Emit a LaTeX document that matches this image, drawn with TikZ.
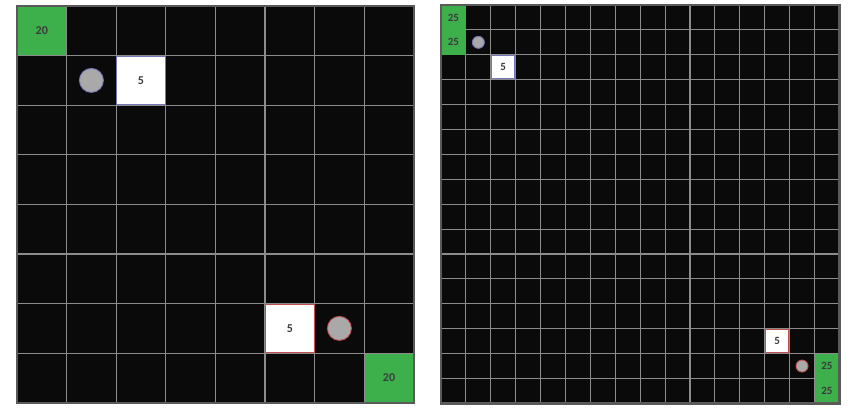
\documentclass[tikz,border=0pt]{standalone}
\usepackage{fontspec}
\setmainfont{Carlito}
\usetikzlibrary{positioning}

\definecolor{cellbg}{HTML}{0A0A0A}
\definecolor{gridgray}{HTML}{8C8C8C}
\definecolor{framegray}{HTML}{5A5A5A}
\definecolor{goalgreen}{HTML}{3DAF4B}
\definecolor{agentgray}{HTML}{A9A9A9}
\definecolor{edgeblue}{HTML}{7377B8}
\definecolor{edgered}{HTML}{C0504D}
\definecolor{labelgray}{HTML}{3C3C3C}

\tikzset{
  gridln/.style={gridgray, line width=1.1pt},
  frameln/.style={framegray, line width=2.4pt},
  goal/.style={fill=goalgreen, minimum size=#1, inner sep=0pt, text=labelgray, font=\bfseries\fontsize{12}{14}\selectfont},
  block/.style={fill=white, minimum size=#1, inner sep=0pt, line width=1pt, text=labelgray, font=\bfseries\fontsize{12}{14}\selectfont},
  agent/.style={circle, fill=agentgray, minimum size=#1, inner sep=0pt, line width=0.9pt},
  smalltxt/.style={font=\bfseries\fontsize{11}{13}\selectfont}
}

\begin{document}
\begin{tikzpicture}[x=1pt,y=-1pt]
  \useasboundingbox (0,0) rectangle (852,410);

  % small board, 8 x 8
  \begin{scope}[shift={(17,6)},x=49.6pt,y=-49.6pt]
    \fill[cellbg] (0,0) rectangle (8,8);
    \foreach \k in {1,...,7} {
      \draw[gridln] (\k,0) -- (\k,8);
      \draw[gridln] (0,\k) -- (8,\k);
    }
    \node[goal=48.6pt] (goalTL) at (0.5,0.5) {20};
    \node[goal=48.6pt] (goalBR) at (7.5,7.5) {20};
    \node[block=48.6pt, draw=edgeblue] (boxTL) at (2.5,1.5) {5};
    \node[block=48.6pt, draw=edgered] (boxBR) at (5.5,6.5) {5};
    \node[agent=24pt, draw=edgeblue] (agentTL) at (1.5,1.5) {};
    \node[agent=24pt, draw=edgered] (agentBR) at (6.5,6.5) {};
    \draw[frameln] (0,0) rectangle (8,8);
  \end{scope}

  % large board, 16 x 16
  \begin{scope}[shift={(441,5)},x=24.9pt,y=-24.9pt]
    \fill[cellbg] (0,0) rectangle (16,16);
    \foreach \k in {1,...,15} {
      \draw[gridln] (\k,0) -- (\k,16);
      \draw[gridln] (0,\k) -- (16,\k);
    }
    \node[goal=24.9pt, smalltxt] (goalTa) at (0.5,0.5) {25};
    \node[goal=24.9pt, smalltxt] (goalTb) at (0.5,1.5) {25};
    \node[goal=24.9pt, smalltxt] (goalBa) at (15.5,14.5) {25};
    \node[goal=24.9pt, smalltxt] (goalBb) at (15.5,15.5) {25};
    \node[block=23.4pt, smalltxt, draw=edgeblue] (boxT) at (2.5,2.5) {5};
    \node[block=23.4pt, smalltxt, draw=edgered] (boxB) at (13.5,13.5) {5};
    \node[agent=12pt, draw=edgeblue] (agentT) at (1.5,1.5) {};
    \node[agent=12pt, draw=edgered] (agentB) at (14.5,14.5) {};
    \draw[frameln] (0,0) rectangle (16,16);
  \end{scope}
\end{tikzpicture}
\end{document}
